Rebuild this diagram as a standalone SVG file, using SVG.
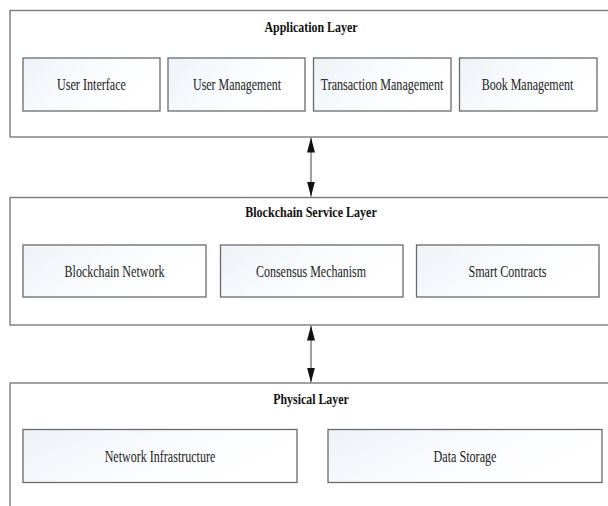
<svg xmlns="http://www.w3.org/2000/svg" width="608" height="506" viewBox="0 0 608 506">
  <style>
    .layer { fill: #ffffff; stroke: #7a7a7a; stroke-width: 1.4; }
    .box { fill: url(#boxFill); stroke: #6a6a6a; stroke-width: 1.3; }
    .title { font-family: "Liberation Serif", "Times New Roman", serif; font-weight: bold; font-size: 15.5px; fill: #111; text-anchor: middle; }
    .label { font-family: "Liberation Serif", "Times New Roman", serif; font-size: 17px; fill: #222; text-anchor: middle; }
    .link { stroke: #808080; stroke-width: 1.5; fill: none; marker-start: url(#head); marker-end: url(#head); }
  </style>
  <defs>
    <linearGradient id="boxFill" x1="0" y1="0" x2="1" y2="0.4">
      <stop offset="0" stop-color="#edf2f8"/>
      <stop offset="0.6" stop-color="#fbfcfe"/>
      <stop offset="1" stop-color="#ffffff"/>
    </linearGradient>
    <marker id="head" viewBox="0 0 15 8" refX="15" refY="4" markerWidth="15" markerHeight="8" markerUnits="userSpaceOnUse" orient="auto-start-reverse">
      <path d="M0,0 L15,4 L0,8 Z" fill="#111"/>
    </marker>
  </defs>

  <!-- Application layer -->
  <g id="application-layer">
    <rect class="layer" x="10" y="10.5" width="620" height="126.5"/>
    <text class="title" x="311" y="31.5" textLength="93" lengthAdjust="spacingAndGlyphs">Application Layer</text>
  </g>
  <g id="user-interface">
    <rect class="box" x="23" y="58" width="137" height="53"/>
    <text class="label" x="91.5" y="89.5" textLength="69" lengthAdjust="spacingAndGlyphs">User Interface</text>
  </g>
  <g id="user-management">
    <rect class="box" x="168" y="58" width="137" height="53"/>
    <text class="label" x="237" y="89.5" textLength="88" lengthAdjust="spacingAndGlyphs">User Management</text>
  </g>
  <g id="transaction-management">
    <rect class="box" x="313.5" y="58" width="137.5" height="53"/>
    <text class="label" x="382" y="89.5" textLength="122.6" lengthAdjust="spacingAndGlyphs">Transaction Management</text>
  </g>
  <g id="book-management">
    <rect class="box" x="459.5" y="58" width="137.5" height="53"/>
    <text class="label" x="527.5" y="89.5" textLength="91.6" lengthAdjust="spacingAndGlyphs">Book Management</text>
  </g>

  <!-- Blockchain service layer -->
  <g id="blockchain-service-layer">
    <rect class="layer" x="10" y="197.5" width="620" height="127.5"/>
    <text class="title" x="311" y="216.5" textLength="131.5" lengthAdjust="spacingAndGlyphs">Blockchain Service Layer</text>
  </g>
  <g id="blockchain-network">
    <rect class="box" x="23" y="245" width="183" height="52"/>
    <text class="label" x="114.5" y="276.5" textLength="100" lengthAdjust="spacingAndGlyphs">Blockchain Network</text>
  </g>
  <g id="consensus-mechanism">
    <rect class="box" x="220.5" y="245" width="182.5" height="52"/>
    <text class="label" x="311" y="276.5" textLength="110" lengthAdjust="spacingAndGlyphs">Consensus Mechanism</text>
  </g>
  <g id="smart-contracts">
    <rect class="box" x="416.5" y="245" width="182.5" height="52"/>
    <text class="label" x="507.5" y="276.5" textLength="78" lengthAdjust="spacingAndGlyphs">Smart Contracts</text>
  </g>

  <!-- Physical layer -->
  <g id="physical-layer">
    <rect class="layer" x="10" y="383" width="620" height="140"/>
    <text class="title" x="311" y="403.5" textLength="75.5" lengthAdjust="spacingAndGlyphs">Physical Layer</text>
  </g>
  <g id="network-infrastructure">
    <rect class="box" x="23" y="429.5" width="274" height="53"/>
    <text class="label" x="160" y="461.5" textLength="110.7" lengthAdjust="spacingAndGlyphs">Network Infrastructure</text>
  </g>
  <g id="data-storage">
    <rect class="box" x="328" y="429.5" width="274" height="53"/>
    <text class="label" x="465" y="461.5" textLength="63" lengthAdjust="spacingAndGlyphs">Data Storage</text>
  </g>

  <!-- Two-way links between layers -->
  <g id="connectors">
    <line class="link" x1="311" y1="137.5" x2="311" y2="196.5"/>
    <line class="link" x1="311" y1="325.5" x2="311" y2="382.5"/>
  </g>
</svg>
